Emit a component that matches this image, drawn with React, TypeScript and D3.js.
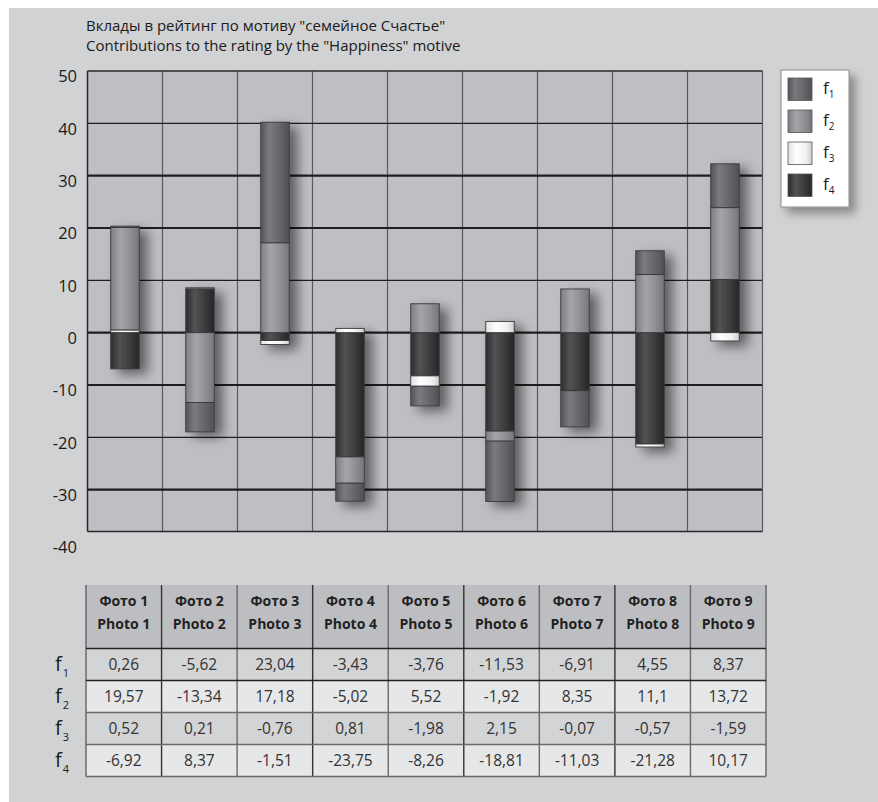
import React from 'react';
import * as d3 from 'd3';

// data
const photosRu = ['Фото 1', 'Фото 2', 'Фото 3', 'Фото 4', 'Фото 5', 'Фото 6', 'Фото 7', 'Фото 8', 'Фото 9'];
const photosEn = ['Photo 1', 'Photo 2', 'Photo 3', 'Photo 4', 'Photo 5', 'Photo 6', 'Photo 7', 'Photo 8', 'Photo 9'];
const f1 = [0.26, -5.62, 23.04, -3.43, -3.76, -11.53, -6.91, 4.55, 8.37];
const f2 = [19.57, -13.34, 17.18, -5.02, 5.52, -1.92, 8.35, 11.1, 13.72];
const f3 = [0.52, 0.21, -0.76, 0.81, -1.98, 2.15, -0.07, -0.57, -1.59];
const f4 = [-6.92, 8.37, -1.51, -23.75, -8.26, -18.81, -11.03, -21.28, 10.17];
const seriesKeys = ['f1', 'f2', 'f3', 'f4'];
const yTicks = [50, 40, 30, 20, 10, 0, -10, -20, -30, -40];
const thickTicks = [30, 20, 0, -10, -30];
const titleLines = ['Вклады в рейтинг по мотиву "семейное Счастье"', 'Contributions to the rating by the "Happiness" motive'];

const font = '"Open Sans", "DejaVu Sans", sans-serif';

const gradients: Record<string, [number, string][]> = {
    f1: [[0, '#545558'], [0.3, '#7a7b7e'], [0.65, '#66676a'], [1, '#505154']],
    f2: [[0, '#7e7f82'], [0.35, '#a4a5a8'], [0.7, '#8e8f92'], [1, '#75767a']],
    f3: [[0, '#e2e2e2'], [0.35, '#ffffff'], [0.75, '#f0f0f0'], [1, '#cfcfcf']],
    f4: [[0, '#2c2c2e'], [0.32, '#525355'], [0.7, '#3a3a3c'], [1, '#262628']],
};

const fmt = (v: number) => String(v).replace('.', ',');

export default function App() {
    const W = 878;
    const H = 802;
    const plot = { left: 87.5, right: 762.5, top: 71, bottom: 531.5 };

    const rows = photosRu.map((_, i) => ({ f1: f1[i], f2: f2[i], f3: f3[i], f4: f4[i] }));
    // stacked outward from zero: f4 nearest, then f3, f2, f1
    const stacked = d3.stack<any>().keys(['f4', 'f3', 'f2', 'f1']).offset(d3.stackOffsetDiverging)(rows);

    const x = d3.scaleBand<number>().domain(d3.range(9)).range([plot.left, plot.right]).padding(0);
    const y = d3.scaleLinear().domain([-38, 50]).range([plot.bottom, plot.top]);
    const barW = 28.5;

    const tx = d3.scaleBand<number>().domain(d3.range(9)).range([86, 766]).padding(0);
    const tableTop = 585;
    const headerBottom = 648.5;
    const rowH = 32;

    return (
        <svg width={W} height={H} style={{ position: 'absolute', left: 0, top: 0 }} fontFamily={font}>
            <defs>
                {seriesKeys.map((k) => (
                    <linearGradient key={k} id={`g-${k}`} x1="0" x2="1" y1="0" y2="0">
                        {gradients[k].map(([o, c]) => (
                            <stop key={o} offset={o} stopColor={c} />
                        ))}
                    </linearGradient>
                ))}
                <filter id="shadow" x="-50%" y="-20%" width="230%" height="150%">
                    <feDropShadow dx="8" dy="5" stdDeviation="6" floodColor="#000" floodOpacity="0.5" />
                </filter>
                <filter id="lshadow" x="-30%" y="-20%" width="170%" height="150%">
                    <feDropShadow dx="6" dy="6" stdDeviation="5" floodColor="#000" floodOpacity="0.35" />
                </filter>
            </defs>

            <rect x={0} y={0} width={W} height={H} fill="#fff" />
            <rect x={9} y={8} width={W - 9} height={H - 8} fill="#d1d2d4" />

            {titleLines.map((t, i) => (
                <text key={i} x={86} y={31 + i * 20} fontSize={15} fill="#1a1a1a">
                    {t}
                </text>
            ))}

            {/* plot area */}
            <rect x={plot.left} y={plot.top} width={plot.right - plot.left} height={plot.bottom - plot.top} fill="#bebfc3" />
            {d3.range(1, 9).map((i) => (
                <line key={i} x1={x(i)} x2={x(i)} y1={plot.top} y2={plot.bottom} stroke="#5a5a5c" strokeWidth={1.2} />
            ))}
            {yTicks.filter((t) => t < 50 && t > -38).map((t) => (
                <line
                    key={t}
                    x1={plot.left}
                    x2={plot.right}
                    y1={y(t)}
                    y2={y(t)}
                    stroke="#1e1e1e"
                    strokeWidth={thickTicks.includes(t) ? 2.2 : 1.3}
                />
            ))}
            <line x1={plot.right} x2={plot.right} y1={plot.top} y2={plot.bottom} stroke="#5a5a5c" strokeWidth={1.2} />
            <line x1={plot.left} x2={plot.right} y1={plot.top} y2={plot.top} stroke="#2a2a2a" strokeWidth={1.5} />
            <line x1={plot.left} x2={plot.right} y1={plot.bottom} y2={plot.bottom} stroke="#2a2a2a" strokeWidth={1.5} />
            <line x1={plot.left} x2={plot.left} y1={plot.top} y2={plot.bottom} stroke="#2a2a2a" strokeWidth={1.5} />

            {yTicks.map((t) => (
                <text key={t} x={77} y={y(t) + 7} fontSize={16.5} fill="#1a1a1a" textAnchor="end" dominantBaseline="middle">
                    {t}
                </text>
            ))}

            {/* bars */}
            {d3.range(9).map((i) => {
                const cx = (x(i) as number) + x.bandwidth() / 2;
                return (
                    <g key={i} filter="url(#shadow)">
                        {stacked.map((s) => {
                            const [a, b] = s[i];
                            if (a === b) return null;
                            const top = y(Math.max(a, b));
                            const h = Math.abs(y(a) - y(b));
                            return (
                                <rect
                                    key={s.key}
                                    x={cx - barW / 2}
                                    y={top}
                                    width={barW}
                                    height={h}
                                    fill={`url(#g-${s.key})`}
                                    stroke="#3a3a3c"
                                    strokeWidth={0.9}
                                />
                            );
                        })}
                    </g>
                );
            })}

            {/* legend */}
            <rect x={781} y={70} width={68} height={137} fill="#fff" stroke="#8a8a8a" strokeWidth={1} filter="url(#lshadow)" />
            {seriesKeys.map((k, i) => (
                <g key={k}>
                    <rect x={788} y={78 + i * 32} width={24} height={22.5} fill={`url(#g-${k})`} stroke="#555" strokeWidth={0.8} />
                    <text x={823} y={94 + i * 32} fontSize={17} fill="#1a1a1a">
                        f<tspan fontSize={10} dy={4}>{i + 1}</tspan>
                    </text>
                </g>
            ))}

            {/* table */}
            {d3.range(9).map((i) => (
                <g key={i}>
                    <rect x={tx(i)} y={tableTop} width={tx.bandwidth()} height={headerBottom - tableTop} fill="#bdbec1" />
                    <text x={(tx(i) as number) + tx.bandwidth() / 2} y={606} fontSize={14} fontWeight={700} fill="#222" textAnchor="middle">
                        {photosRu[i]}
                    </text>
                    <text x={(tx(i) as number) + tx.bandwidth() / 2} y={629} fontSize={14} fontWeight={700} fill="#222" textAnchor="middle">
                        {photosEn[i]}
                    </text>
                </g>
            ))}
            {[f1, f2, f3, f4].map((vals, r) => {
                const top = headerBottom + r * rowH;
                return (
                    <g key={r}>
                        <rect x={86} y={top} width={680} height={rowH} fill={r % 2 === 0 ? '#d3d4d6' : '#e6e7e9'} />
                        {vals.map((v, i) => (
                            <text
                                key={i}
                                x={(tx(i) as number) + tx.bandwidth() / 2}
                                y={top + rowH / 2 + 1}
                                fontSize={15.5}
                                fill="#333"
                                textAnchor="middle"
                                dominantBaseline="middle"
                            >
                                {fmt(v)}
                            </text>
                        ))}
                        <text x={55} y={top + rowH / 2 + 6} fontSize={20} fill="#1a1a1a">
                            f<tspan fontSize={11} dx={1} dy={6}>{r + 1}</tspan>
                        </text>
                    </g>
                );
            })}
            {/* table grid */}
            {d3.range(1, 9).map((i) => (
                <line
                    key={i}
                    x1={tx(i)}
                    x2={tx(i)}
                    y1={tableTop}
                    y2={headerBottom + 4 * rowH}
                    stroke={i % 2 === 1 ? '#333' : '#6a6a6a'}
                    strokeWidth={1.4}
                />
            ))}
            <line x1={86} x2={86} y1={tableTop} y2={headerBottom + 4 * rowH} stroke="#6a6a6a" strokeWidth={1.5} />
            <line x1={766} x2={766} y1={tableTop} y2={headerBottom + 4 * rowH} stroke="#6a6a6a" strokeWidth={1.5} />
            {[0, 1, 2, 3, 4].map((r) => (
                <line
                    key={r}
                    x1={86}
                    x2={766}
                    y1={headerBottom + r * rowH}
                    y2={headerBottom + r * rowH}
                    stroke={r < 2 ? '#222' : '#6a6a6a'}
                    strokeWidth={1.4}
                />
            ))}
        </svg>
    );
}
